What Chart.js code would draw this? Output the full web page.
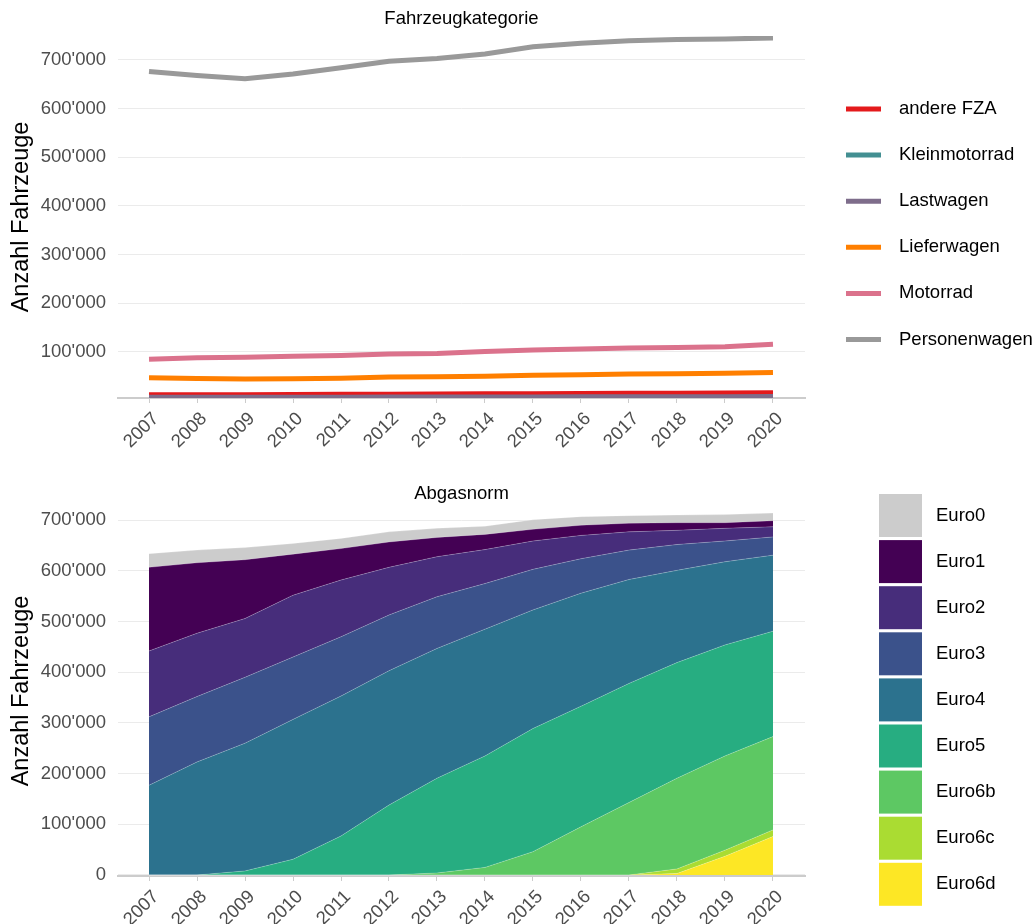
<!DOCTYPE html>
<html>
<head>
<meta charset="utf-8">
<script src="https://cdn.jsdelivr.net/npm/chart.js@4.4.1/dist/chart.umd.min.js"></script>
<style>
  html, body { margin: 0; padding: 0; background: #fff; }
  #wrap { position: relative; width: 1035px; height: 924px; }
  canvas { position: absolute; left: 0; }
</style>
</head>
<body>
<div id="wrap">
  <canvas id="top" width="1035" height="462" style="top:0"></canvas>
  <canvas id="bottom" width="1035" height="462" style="top:462px"></canvas>
</div>
<script>
const years = [2007, 2008, 2009, 2010, 2011, 2012, 2013, 2014, 2015, 2016, 2017, 2018, 2019, 2020];

// Fahrzeugkategorie
const andereFZA     = [12000, 12000, 12000, 12500, 13000, 13000, 13500, 14000, 14000, 14500, 15000, 15500, 16000, 16500];
const kleinmotorrad = [5500, 5500, 5600, 5600, 5700, 5800, 5900, 6000, 6000, 6100, 6200, 6300, 6400, 6500];
const lastwagen     = [7000, 7000, 7000, 7000, 7000, 7500, 7500, 7500, 7500, 8000, 8000, 8000, 8000, 8500];
const lieferwagen   = [47000, 45500, 44600, 45000, 46000, 48700, 49000, 50000, 52000, 53000, 55000, 55500, 56500, 58000];
const motorrad      = [85000, 88000, 89000, 91000, 93000, 96000, 97000, 101000, 104000, 106000, 108000, 109000, 111000, 116000];
const personenwagen = [676000, 668000, 661000, 671000, 684000, 697000, 703000, 712000, 727000, 734000, 739000, 742000, 743000, 745000];

// Abgasnorm (stacked, bottom to top)
const euro6d = [0, 0, 0, 0, 0, 0, 0, 0, 0, 0, 0, 3000, 37000, 76000];
const euro6c = [0, 0, 0, 0, 0, 0, 0, 0, 0, 0, 0, 9000, 12000, 13000];
const euro6b = [0, 0, 0, 0, 0, 0, 4000, 15000, 46000, 95000, 143000, 179000, 186000, 184000];
const euro5  = [0, 0, 8000, 31000, 77000, 138000, 187000, 220000, 243000, 238000, 235000, 228000, 219000, 208000];
const euro4  = [177000, 223000, 252000, 276000, 276000, 265000, 256000, 250000, 234000, 223000, 205000, 182000, 164000, 150000];
const euro3  = [135000, 129000, 130000, 123000, 117000, 110000, 102000, 90000, 80000, 68000, 58000, 51000, 41000, 36000];
const euro2  = [130000, 125000, 116000, 122000, 112000, 94000, 79000, 67000, 56000, 46000, 36000, 28000, 25000, 20000];
const euro1  = [165000, 139000, 116000, 81000, 62000, 50000, 38000, 30000, 23000, 20000, 17000, 15000, 11000, 12000];
const euro0  = [27000, 25000, 24000, 21000, 20000, 20000, 18000, 16000, 19000, 17000, 15000, 15000, 16000, 15000];

const topTicks = [100000, 200000, 300000, 400000, 500000, 600000, 700000];
const bottomTicks = [0, 100000, 200000, 300000, 400000, 500000, 600000, 700000];

const FONT = "'Liberation Sans', Arial, sans-serif";
const fmt = v => String(v).replace(/\B(?=(\d{3})+(?!\d))/g, "'");
const pts = vals => years.map((yr, i) => ({ x: yr, y: vals[i] }));

// legend on the right, drawn from the datasets
const sideLegend = {
  id: 'sideLegend',
  afterDraw(chart, args, opts) {
    const ctx = chart.ctx;
    let sets = chart.data.datasets.slice();
    if (opts.reverse) sets.reverse();
    ctx.save();
    ctx.font = opts.fontSize + 'px ' + FONT;
    ctx.textBaseline = 'middle';
    ctx.textAlign = 'left';
    sets.forEach((ds, i) => {
      const cy = opts.y0 + i * opts.step;
      if (opts.kind === 'line') {
        ctx.strokeStyle = ds.borderColor;
        ctx.lineWidth = opts.keyH;
        ctx.beginPath();
        ctx.moveTo(opts.keyX, cy);
        ctx.lineTo(opts.keyX + opts.keyW, cy);
        ctx.stroke();
      } else {
        ctx.fillStyle = ds.backgroundColor;
        ctx.fillRect(opts.keyX, cy - opts.keyH / 2, opts.keyW, opts.keyH);
      }
      ctx.fillStyle = '#000';
      ctx.fillText(ds.label, opts.textX, cy);
    });
    ctx.restore();
  }
};

function xScale(h) {
  return {
    type: 'linear', min: 2006.354, max: 2020.667,
    afterBuildTicks: s => { s.ticks = years.map(v => ({ value: v })); },
    ticks: { callback: v => String(v), autoSkip: false, maxRotation: 45, minRotation: 45,
             color: '#4d4d4d', font: { family: FONT, size: 18.5 }, padding: 5, labelOffset: 7 },
    grid: { drawOnChartArea: false, drawTicks: true, tickLength: 5, color: '#cccccc', lineWidth: 1 },
    border: { display: true, color: '#cccccc', width: 2 },
    afterFit: s => { s.height = h; }
  };
}

function yScale(min, max, ticks, stacked) {
  return {
    min: min, max: max, stacked: stacked,
    afterBuildTicks: s => { s.ticks = ticks.map(v => ({ value: v })); },
    ticks: { callback: v => fmt(v), color: '#4d4d4d', font: { family: FONT, size: 18.5 }, padding: 12 },
    grid: { color: '#ebebeb', lineWidth: 1, drawTicks: false },
    border: { display: false },
    title: { display: true, text: 'Anzahl Fahrzeuge', color: '#000', font: { family: FONT, size: 23.5 },
             padding: { top: 7, bottom: 0 } },
    afterFit: s => { s.width = 118; }
  };
}

// top chart: lines
const lineSeries = [
  ['andere FZA', andereFZA, '#e41a1c'],
  ['Kleinmotorrad', kleinmotorrad, '#438f92'],
  ['Lastwagen', lastwagen, '#7e6d8b'],
  ['Lieferwagen', lieferwagen, '#ff7f00'],
  ['Motorrad', motorrad, '#db728c'],
  ['Personenwagen', personenwagen, '#999999']
];

new Chart(document.getElementById('top'), {
  type: 'line',
  data: {
    datasets: lineSeries.map(([label, vals, col], i) => ({
      label: label, data: pts(vals), borderColor: col, backgroundColor: col,
      borderWidth: 5, pointRadius: 0, tension: 0, fill: false,
      order: lineSeries.length - i
    }))
  },
  options: {
    responsive: false, animation: false, devicePixelRatio: 1,
    layout: { padding: { left: 0, right: 230, top: 0, bottom: 0 } },
    plugins: {
      legend: { display: false },
      tooltip: { enabled: false },
      title: { display: true, text: 'Fahrzeugkategorie', fullSize: false, color: '#000',
               font: { family: FONT, size: 18.5, weight: 'normal' }, padding: { top: 8, bottom: 5.8 } },
      sideLegend: { kind: 'line', keyX: 846, keyW: 35, keyH: 5, textX: 899, y0: 109, step: 46.1, fontSize: 18.5 }
    },
    scales: {
      x: xScale(64),
      y: yScale(5500, 749000, topTicks, false)
    }
  },
  plugins: [sideLegend]
});

// bottom chart: stacked areas
const areaSeries = [
  ['Euro6d', euro6d, '#FDE725'],
  ['Euro6c', euro6c, '#AADC32'],
  ['Euro6b', euro6b, '#5DC863'],
  ['Euro5', euro5, '#27AD81'],
  ['Euro4', euro4, '#2C728E'],
  ['Euro3', euro3, '#3B528B'],
  ['Euro2', euro2, '#472D7B'],
  ['Euro1', euro1, '#440154'],
  ['Euro0', euro0, '#CCCCCC']
];

new Chart(document.getElementById('bottom'), {
  type: 'line',
  data: {
    datasets: areaSeries.map(([label, vals, col], i) => ({
      label: label, data: pts(vals), backgroundColor: col,
      borderColor: 'rgba(255,255,255,0.35)', borderWidth: 0.6,
      pointRadius: 0, tension: 0, fill: i === 0 ? 'origin' : '-1'
    }))
  },
  options: {
    responsive: false, animation: false, devicePixelRatio: 1,
    layout: { padding: { left: 0, right: 230, top: 0, bottom: 0 } },
    plugins: {
      legend: { display: false },
      tooltip: { enabled: false },
      title: { display: true, text: 'Abgasnorm', fullSize: false, color: '#000',
               font: { family: FONT, size: 18.5, weight: 'normal' }, padding: { top: 21, bottom: 0.8 } },
      sideLegend: { kind: 'box', reverse: true, keyX: 879, keyW: 43, keyH: 43, textX: 936, y0: 53.5, step: 46.1, fontSize: 18.5 }
    },
    scales: {
      x: xScale(48),
      y: yScale(-2000, 728000, bottomTicks, true)
    }
  },
  plugins: [sideLegend]
});
</script>
</body>
</html>
